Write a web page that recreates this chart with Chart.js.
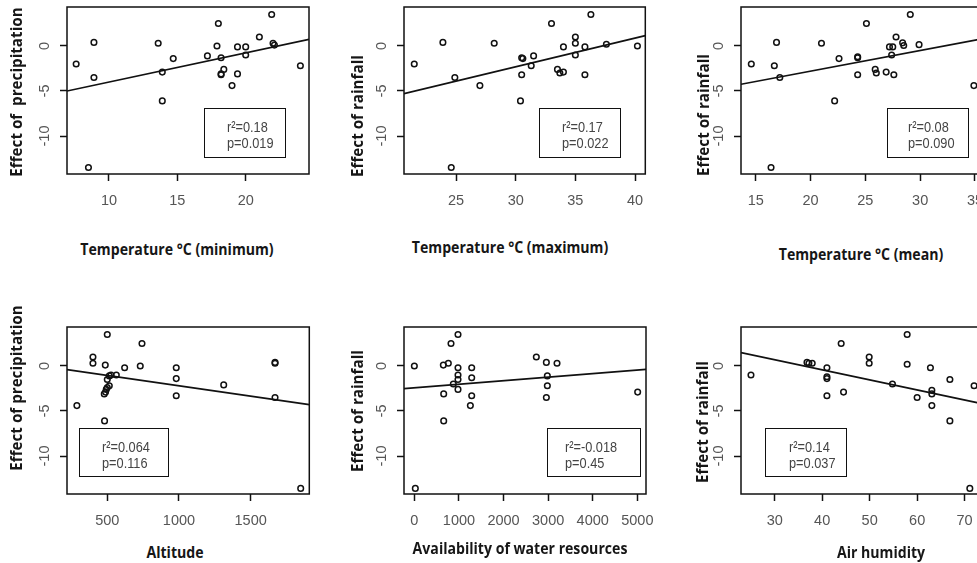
<!DOCTYPE html>
<html>
<head>
<meta charset="utf-8">
<script src="https://cdn.jsdelivr.net/npm/chart.js@4/dist/chart.umd.min.js"></script>
<style>
html,body{margin:0;padding:0;background:#fff;}
body{position:relative;width:977px;height:563px;overflow:hidden;}
canvas{position:absolute;}
.xt,.yt{position:absolute;font-family:"Open Sans",sans-serif;font-weight:700;color:#161616;white-space:pre;line-height:1;}
.xt{font-size:15.5px;transform:translate(-50%,-50%) scaleX(0.91);}
.yt{font-size:15.2px;transform:translate(-50%,-50%) rotate(-90deg);}
.stat{position:absolute;box-sizing:border-box;border:1.5px solid #111;font-family:"Liberation Sans",Arial,sans-serif;font-size:15.2px;color:#444;line-height:16px;}
.stat span{display:block;transform:scaleX(0.84);transform-origin:0 50%;white-space:pre;}
</style>
</head>
<body>
<script>
// ---------- data ----------
// shared y axis
const yTicks = [-10, -5, 0];
const yRange = [-14.22, 4.33];

// Panel 1: Temperature (minimum) vs effect of precipitation
const tminX = [7.6, 8.9, 8.9, 8.5, 13.6, 13.9, 13.9, 14.7, 17.2, 18.0, 17.9, 18.2, 18.2, 18.2, 18.4, 19.0, 19.4, 19.4, 20.0, 20.0, 21.0, 21.9, 22.0, 22.1, 24.0];
const tminY = [-2.0, 0.4, -3.5, -13.5, 0.3, -2.9, -6.1, -1.4, -1.1, 2.5, 0.0, -1.3, -3.1, -3.2, -2.6, -4.4, -0.1, -3.1, -0.1, -1.0, 1.0, 3.5, 0.3, 0.1, -2.2];
const tminFitX = [6.93, 24.63];
const tminFitY = [-5.0, 0.74];
const tminTicks = [10, 15, 20];
const tminRange = [6.93, 24.63];

// Panel 2: Temperature (maximum) vs effect of rainfall
const tmaxX = [21.5, 23.9, 24.9, 24.6, 27.0, 28.2, 30.4, 30.5, 30.5, 30.6, 31.3, 31.5, 33.0, 33.5, 33.7, 34.0, 34.0, 35.0, 35.0, 35.0, 35.8, 35.8, 36.3, 37.6, 40.2];
const tmaxY = [-2.0, 0.4, -3.5, -13.5, -4.4, 0.3, -6.1, -3.2, -1.3, -1.4, -2.2, -1.1, 2.5, -2.6, -3.0, -2.9, -0.1, 1.0, 0.3, -1.0, -0.1, -3.2, 3.5, 0.2, 0.0];
const tmaxFitX = [20.64, 40.86];
const tmaxFitY = [-5.3, 1.15];
const tmaxTicks = [25, 30, 35, 40];
const tmaxRange = [20.64, 40.86];

// Panel 3: Temperature (mean) vs effect of rainfall
const tmeanX = [14.6, 16.7, 16.9, 17.2, 16.4, 21.0, 22.2, 22.6, 24.3, 24.3, 24.3, 25.1, 25.9, 26.0, 26.9, 27.2, 27.4, 27.5, 27.6, 27.8, 28.4, 28.5, 29.1, 29.9, 34.9];
const tmeanY = [-2.0, -2.2, 0.4, -3.5, -13.5, 0.3, -6.1, -1.4, -1.2, -1.3, -3.2, 2.5, -2.6, -3.0, -2.9, -0.1, -1.0, -0.1, -3.2, 1.0, 0.35, 0.05, 3.5, 0.15, -4.4];
const tmeanFitX = [13.66, 35.64];
const tmeanFitY = [-4.25, 0.8];
const tmeanTicks = [15, 20, 25, 30, 35];
const tmeanRange = [13.66, 35.64];

// Panel 4: Altitude vs effect of precipitation
const altX = [288, 400, 400, 486, 500, 481, 479, 488, 493, 500, 514, 500, 514, 526, 563, 621, 730, 742, 981, 981, 981, 1312, 1670, 1670, 1670, 1849];
const altY = [-4.4, 1.0, 0.3, 0.1, 3.5, -6.1, -3.1, -2.9, -2.6, -2.4, -2.2, -1.5, -1.1, -1.0, -1.0, -0.2, 0.0, 2.5, -0.2, -1.4, -3.3, -2.1, 0.4, 0.3, -3.5, -13.6];
const altFitX = [219, 1909];
const altFitY = [-0.41, -4.3];
const altTicks = [500, 1000, 1500];
const altRange = [219, 1909];

// Panel 5: Availability of water resources vs effect of rainfall
const waterX = [0, 22, 650, 658, 658, 762, 822, 874, 979, 979, 979, 979, 979, 1286, 1286, 1286, 1256, 2735, 2960, 2960, 2982, 2982, 3199, 5007];
const waterY = [0.0, -13.6, 0.1, -3.1, -6.1, 0.3, 2.5, -2.0, 3.5, -0.2, -1.0, -1.5, -2.6, -0.2, -1.3, -3.3, -4.4, 1.0, 0.4, -3.5, -1.1, -2.2, 0.3, -2.9];
const waterFitX = [-232, 5194];
const waterFitY = [-2.52, -0.37];
const waterTicks = [0, 1000, 2000, 3000, 4000, 5000];
const waterRange = [-232, 5194];

// Panel 6: Air humidity vs effect of rainfall
const humX = [25.0, 36.8, 37.2, 37.9, 41.0, 41.0, 41.0, 41.0, 44.0, 44.5, 49.9, 49.9, 54.8, 57.9, 57.9, 60.0, 62.8, 63.1, 63.1, 63.1, 66.9, 66.9, 71.1, 72.0];
const humY = [-1.0, 0.4, 0.3, 0.3, -0.2, -1.2, -1.4, -3.3, 2.5, -2.9, 1.0, 0.3, -2.0, 3.5, 0.2, -3.5, -0.2, -2.7, -3.1, -4.4, -1.5, -6.1, -13.6, -2.2];
const humFitX = [22.9, 73.6];
const humFitY = [1.48, -4.19];
const humTicks = [30, 40, 50, 60, 70];
const humRange = [22.9, 73.6];

// texts
const xTitles = ["Temperature °C (minimum)", "Temperature °C (maximum)", "Temperature °C (mean)", "Altitude", "Availability of water resources", "Air humidity"];
const yTitles = ["Effect of  precipitation", "Effect of rainfall", "Effect of rainfall", "Effect of precipitation", "Effect of rainfall", "Effect of rainfall"];
const statR2 = ["r²=0.18", "r²=0.17", "r²=0.08", "r²=0.064", "r²=-0.018", "r²=0.14"];
const statP = ["p=0.019", "p=0.022", "p=0.090", "p=0.116", "p=0.45", "p=0.037"];

// ---------- layout ----------
const areas = [
  {l: 67,    t: 7,     r: 309,   b: 174},
  {l: 404,   t: 7,     r: 645.3, b: 174},
  {l: 741,   t: 7,     r: 982,   b: 174},
  {l: 67,    t: 326.7, r: 309.3, b: 493.3},
  {l: 404,   t: 326.7, r: 646,   b: 493.3},
  {l: 741.3, t: 326.7, r: 982,   b: 493.3}
];
const xTitlePos = [[177, 250], [510, 248], [861, 255], [175, 553], [520, 549], [881, 553]];
const yTitlePos = [[17, 91.5], [358.3, 116], [704.3, 115], [16.7, 388.3], [358.3, 410.5], [703.3, 421.7]];
const statBoxes = [
  {l: 204, t: 108.3, r: 286, b: 158.5, pl: 21.8},
  {l: 538.7, t: 108.3, r: 620.7, b: 158, pl: 22.1},
  {l: 887.3, t: 108.3, r: 968.7, b: 158, pl: 20.2},
  {l: 79, t: 428.3, r: 168.7, b: 476.7, pl: 21.8},
  {l: 547.3, t: 428.3, r: 641, b: 476.7, pl: 16.9},
  {l: 765, t: 428.3, r: 846.7, b: 476.7, pl: 22.5}
];

const framePlugin = {
  id: 'frame',
  afterDraw(c) {
    const {ctx, chartArea: a} = c;
    ctx.save();
    ctx.strokeStyle = '#111';
    ctx.lineWidth = 1.5;
    ctx.strokeRect(a.left, a.top, a.right - a.left, a.bottom - a.top);
    ctx.restore();
  }
};

function makePanel(idx, xr, xTicks, xs, ys, fx, fy) {
  const area = areas[idx];
  const padL = 67, padT = 20, padR = 20, axH = 45;
  const w = Math.round(area.r - area.l + padL + padR);
  const h = Math.round(area.b - area.t + padT + axH);
  const cv = document.createElement('canvas');
  cv.width = w; cv.height = h;
  cv.style.left = (area.l - padL) + 'px';
  cv.style.top = (area.t - padT) + 'px';
  cv.style.width = w + 'px'; cv.style.height = h + 'px';
  document.body.appendChild(cv);
  const tickFont = {family: 'Liberation Sans', size: 14.5};
  new Chart(cv, {
    type: 'scatter',
    data: {
      datasets: [
        {
          data: xs.map((x, i) => ({x: x, y: ys[i]})),
          pointStyle: 'circle', pointRadius: 2.8, pointHoverRadius: 2.8,
          borderColor: '#111', borderWidth: 1.5, backgroundColor: 'rgba(0,0,0,0)'
        },
        {
          type: 'line',
          data: fx.map((x, i) => ({x: x, y: fy[i]})),
          borderColor: '#111', borderWidth: 1.7, pointRadius: 0, fill: false, tension: 0
        }
      ]
    },
    options: {
      responsive: false, animation: false, events: [],
      layout: {padding: {left: 0, top: padT, right: w - (area.r - area.l) - padL, bottom: 0}},
      plugins: {legend: {display: false}, tooltip: {enabled: false}},
      scales: {
        x: {
          type: 'linear', position: 'bottom', min: xr[0], max: xr[1],
          afterBuildTicks: s => { s.ticks = xTicks.map(v => ({value: v})); },
          afterFit: s => { s.height = axH; s.paddingLeft = 0; s.paddingRight = 0; },
          grid: {drawOnChartArea: false, drawTicks: true, tickLength: 7, tickColor: '#111', tickWidth: 1.5},
          border: {display: false},
          ticks: {color: '#555', font: tickFont, padding: 11, minRotation: 0, maxRotation: 0, autoSkip: false, callback: v => String(v)}
        },
        y: {
          type: 'linear', position: 'left', min: yRange[0], max: yRange[1],
          afterBuildTicks: s => { s.ticks = yTicks.map(v => ({value: v})); },
          afterFit: s => { s.width = padL; s.paddingTop = 0; s.paddingBottom = 0; },
          grid: {drawOnChartArea: false, drawTicks: true, tickLength: 7, tickColor: '#111', tickWidth: 1.5},
          border: {display: false},
          ticks: {color: '#555', font: tickFont, padding: 5, minRotation: 90, maxRotation: 90, crossAlign: 'center', autoSkip: false, callback: v => String(v)}
        }
      }
    },
    plugins: [framePlugin]
  });
}

makePanel(0, tminRange, tminTicks, tminX, tminY, tminFitX, tminFitY);
makePanel(1, tmaxRange, tmaxTicks, tmaxX, tmaxY, tmaxFitX, tmaxFitY);
makePanel(2, tmeanRange, tmeanTicks, tmeanX, tmeanY, tmeanFitX, tmeanFitY);
makePanel(3, altRange, altTicks, altX, altY, altFitX, altFitY);
makePanel(4, waterRange, waterTicks, waterX, waterY, waterFitX, waterFitY);
makePanel(5, humRange, humTicks, humX, humY, humFitX, humFitY);

// axis titles and statistics boxes as real text
for (let i = 0; i < 6; i++) {
  const xt = document.createElement('div');
  xt.className = 'xt';
  xt.textContent = xTitles[i];
  xt.style.left = xTitlePos[i][0] + 'px';
  xt.style.top = xTitlePos[i][1] + 'px';
  document.body.appendChild(xt);

  const yt = document.createElement('div');
  yt.className = 'yt';
  yt.textContent = yTitles[i];
  yt.style.left = yTitlePos[i][0] + 'px';
  yt.style.top = yTitlePos[i][1] + 'px';
  document.body.appendChild(yt);

  const b = statBoxes[i];
  const st = document.createElement('div');
  st.className = 'stat';
  st.style.left = b.l + 'px';
  st.style.top = b.t + 'px';
  st.style.width = (b.r - b.l) + 'px';
  st.style.height = (b.b - b.t) + 'px';
  st.style.paddingLeft = b.pl + 'px';
  st.style.paddingTop = '9.9px';
  const l1 = document.createElement('span'); l1.textContent = statR2[i];
  const l2 = document.createElement('span'); l2.textContent = statP[i];
  st.appendChild(l1); st.appendChild(l2);
  document.body.appendChild(st);
}
</script>
</body>
</html>
